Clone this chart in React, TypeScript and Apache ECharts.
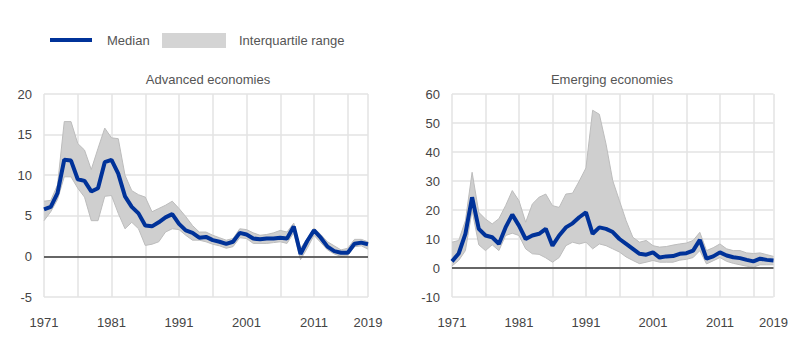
import React, { useEffect, useRef } from "react";
import * as echarts from "echarts";

const years: string[] = [];
for (let y = 1971; y <= 2019; y++) years.push(String(y));

// Advanced economies (1971-2019)
const advMedian = [
  5.8, 6.1, 7.8, 11.9, 11.8, 9.5, 9.3, 8.0, 8.4, 11.6,
  11.9, 10.2, 7.4, 6.1, 5.3, 3.8, 3.7, 4.2, 4.8, 5.2,
  4.0, 3.2, 2.9, 2.3, 2.4, 2.0, 1.8, 1.55, 1.8, 2.9,
  2.7, 2.2, 2.1, 2.2, 2.2, 2.3, 2.2, 3.7, 0.3, 1.9,
  3.2, 2.3, 1.2, 0.65, 0.45, 0.45, 1.55, 1.7, 1.5,
];
const advUpper = [
  6.8, 6.9, 8.8, 16.6, 16.6, 13.9, 13.1, 10.7, 13.3, 15.8,
  14.6, 14.5, 10.0, 8.1, 7.6, 7.3, 5.5, 5.9, 6.3, 6.8,
  5.9, 4.9, 3.8, 3.0, 3.0, 2.6, 2.3, 2.0, 2.2, 3.4,
  3.3, 2.9, 2.6, 2.7, 2.9, 3.2, 3.0, 4.1, 1.0, 2.2,
  3.5, 2.7, 1.8, 1.3, 0.8, 1.0, 2.1, 2.1, 1.8,
];
const advLower = [
  4.4, 5.5, 7.0, 9.8, 9.8, 8.4, 7.3, 4.4, 4.4, 7.4,
  7.5, 5.3, 3.4, 4.2, 3.4, 1.35, 1.5, 1.8, 3.0, 3.4,
  3.3, 2.6, 2.0, 2.0, 1.8, 1.5, 1.3, 1.0, 1.2, 2.3,
  2.2, 1.6, 1.6, 1.6, 1.7, 1.8, 1.6, 2.9, -0.4, 1.0,
  2.6, 1.7, 0.8, 0.3, 0.0, 0.1, 1.2, 1.3, 0.9,
];

// Emerging economies (1971-2019)
const emeMedian = [
  2.3, 5.0, 11.8, 24.4, 13.5, 11.2, 10.6, 8.3, 14.0, 18.4,
  14.6, 10.0, 11.2, 11.8, 13.5, 7.7, 11.2, 14.0, 15.4, 17.5,
  19.2, 11.8, 14.0, 13.5, 12.4, 10.0, 8.3, 6.6, 4.9, 4.6,
  5.4, 3.6, 4.0, 4.1, 4.9, 5.1, 6.0, 9.7, 3.2, 4.0,
  5.4, 4.3, 3.7, 3.4, 2.8, 2.3, 3.2, 2.8, 2.6,
];
const emeUpper = [
  8.9, 9.5, 16.3, 33.0, 19.2, 16.9, 15.2, 17.0, 21.5, 26.7,
  23.2, 15.8, 22.1, 24.4, 25.5, 21.5, 20.9, 25.5, 25.8, 30.0,
  34.5, 54.4, 53.0, 42.7, 30.1, 23.2, 16.3, 10.6, 8.9, 9.5,
  7.7, 7.2, 7.4, 7.9, 8.3, 8.6, 9.5, 12.3, 6.0, 7.0,
  8.3, 6.6, 6.0, 6.0, 5.2, 5.0, 5.2, 4.6, 4.0,
];
const emeLower = [
  0.7, 2.6, 6.0, 19.8, 8.0, 6.0, 8.0, 6.0, 11.2, 12.0,
  11.2, 6.6, 4.9, 4.7, 3.5, 2.0, 3.6, 7.7, 8.9, 8.3,
  8.9, 6.6, 8.3, 7.7, 6.6, 5.5, 3.8, 2.6, 1.5, 2.0,
  2.6, 2.0, 2.0, 2.0, 2.7, 3.0, 3.6, 6.0, 1.4, 2.5,
  3.6, 2.3, 1.6, 1.1, 0.6, 0.3, 1.1, 1.1, 1.1,
];

const panelTitles = ["Advanced economies", "Emerging economies"];
const legendLabels = ["Median", "Interquartile range"];

const BLUE = "#003299";
const BAND = "#cfcfcf";
const BAND_EDGE = "#bcbcbc";
const GRID = "#e3e3e3";
const TEXT = "#444444";
const FONT = "'Liberation Sans', Arial, sans-serif";

function panelSeries(idx: number, med: number[], up: number[], lo: number[]) {
  const diff = up.map((u, i) => +(u - lo[i]).toFixed(3));
  return [
    {
      type: "line",
      name: "lower" + idx,
      xAxisIndex: idx,
      yAxisIndex: idx,
      stack: "band" + idx,
      stackStrategy: "all",
      data: lo,
      symbol: "none",
      lineStyle: { color: BAND_EDGE, width: 1 },
      silent: true,
      z: 2,
    },
    {
      type: "line",
      name: "band" + idx,
      xAxisIndex: idx,
      yAxisIndex: idx,
      stack: "band" + idx,
      stackStrategy: "all",
      data: diff,
      symbol: "none",
      lineStyle: { color: BAND_EDGE, width: 1 },
      areaStyle: { color: BAND, opacity: 1 },
      silent: true,
      z: 2,
      markLine: {
        silent: true,
        symbol: "none",
        label: { show: false },
        lineStyle: { color: "#3a3a3a", width: 1.5, type: "solid" },
        data: [{ yAxis: 0 }],
        z: 3,
      },
    },
    {
      type: "line",
      name: "median" + idx,
      xAxisIndex: idx,
      yAxisIndex: idx,
      data: med,
      symbol: "none",
      lineStyle: { color: BLUE, width: 4 },
      z: 5,
    },
  ];
}

function xAxisCfg(idx: number) {
  return {
    type: "category",
    gridIndex: idx,
    data: years,
    boundaryGap: false,
    axisLine: { show: false },
    axisTick: { show: false },
    axisLabel: {
      interval: (i: number) => i % 10 === 0 || i === years.length - 1,
      color: TEXT,
      fontSize: 13,
      fontFamily: FONT,
      margin: 19,
    },
    splitLine: {
      show: true,
      interval: (i: number) => i % 5 === 0 || i === years.length - 1,
      lineStyle: { color: GRID, width: 1.5 },
    },
  };
}

function yAxisCfg(idx: number, min: number, max: number, interval: number) {
  return {
    type: "value",
    gridIndex: idx,
    min,
    max,
    interval,
    axisLine: { show: false },
    axisTick: { show: false },
    axisLabel: { color: TEXT, fontSize: 13, fontFamily: FONT, margin: 12 },
    splitLine: { show: true, lineStyle: { color: GRID, width: 1.5 } },
  };
}

export default function App() {
  const ref = useRef<HTMLDivElement>(null);
  useEffect(() => {
    if (!ref.current) return;
    const chart = echarts.init(ref.current, null, { renderer: "svg" });
    chart.setOption({
      animation: false,
      backgroundColor: "#ffffff",
      grid: [
        { left: 44, right: 432, top: 94, bottom: 47 },
        { left: 452, right: 26.5, top: 94, bottom: 47 },
      ],
      xAxis: [xAxisCfg(0), xAxisCfg(1)],
      yAxis: [yAxisCfg(0, -5, 20, 5), yAxisCfg(1, -10, 60, 10)],
      series: [
        ...panelSeries(0, advMedian, advUpper, advLower),
        ...panelSeries(1, emeMedian, emeUpper, emeLower),
      ],
      graphic: [
        {
          type: "line",
          shape: { x1: 50, y1: 40, x2: 92, y2: 40 },
          style: { stroke: BLUE, lineWidth: 4 },
        },
        {
          type: "text",
          x: 107,
          y: 40,
          style: {
            text: legendLabels[0],
            fill: "#555555",
            font: "13px " + FONT,
            textVerticalAlign: "middle",
          },
        },
        {
          type: "rect",
          shape: { x: 162, y: 33, width: 64, height: 15 },
          style: { fill: "#d4d4d4" },
        },
        {
          type: "text",
          x: 239,
          y: 40,
          style: {
            text: legendLabels[1],
            fill: "#555555",
            font: "13px " + FONT,
            textVerticalAlign: "middle",
          },
        },
        {
          type: "text",
          x: 208,
          y: 79,
          style: {
            text: panelTitles[0],
            fill: "#555555",
            font: "13px " + FONT,
            textAlign: "center",
            textVerticalAlign: "middle",
          },
        },
        {
          type: "text",
          x: 612,
          y: 79,
          style: {
            text: panelTitles[1],
            fill: "#555555",
            font: "13px " + FONT,
            textAlign: "center",
            textVerticalAlign: "middle",
          },
        },
      ],
    });
    return () => chart.dispose();
  }, []);
  return (
    <div
      ref={ref}
      style={{ position: "fixed", left: 0, top: 0, width: 800, height: 344 }}
    />
  );
}
